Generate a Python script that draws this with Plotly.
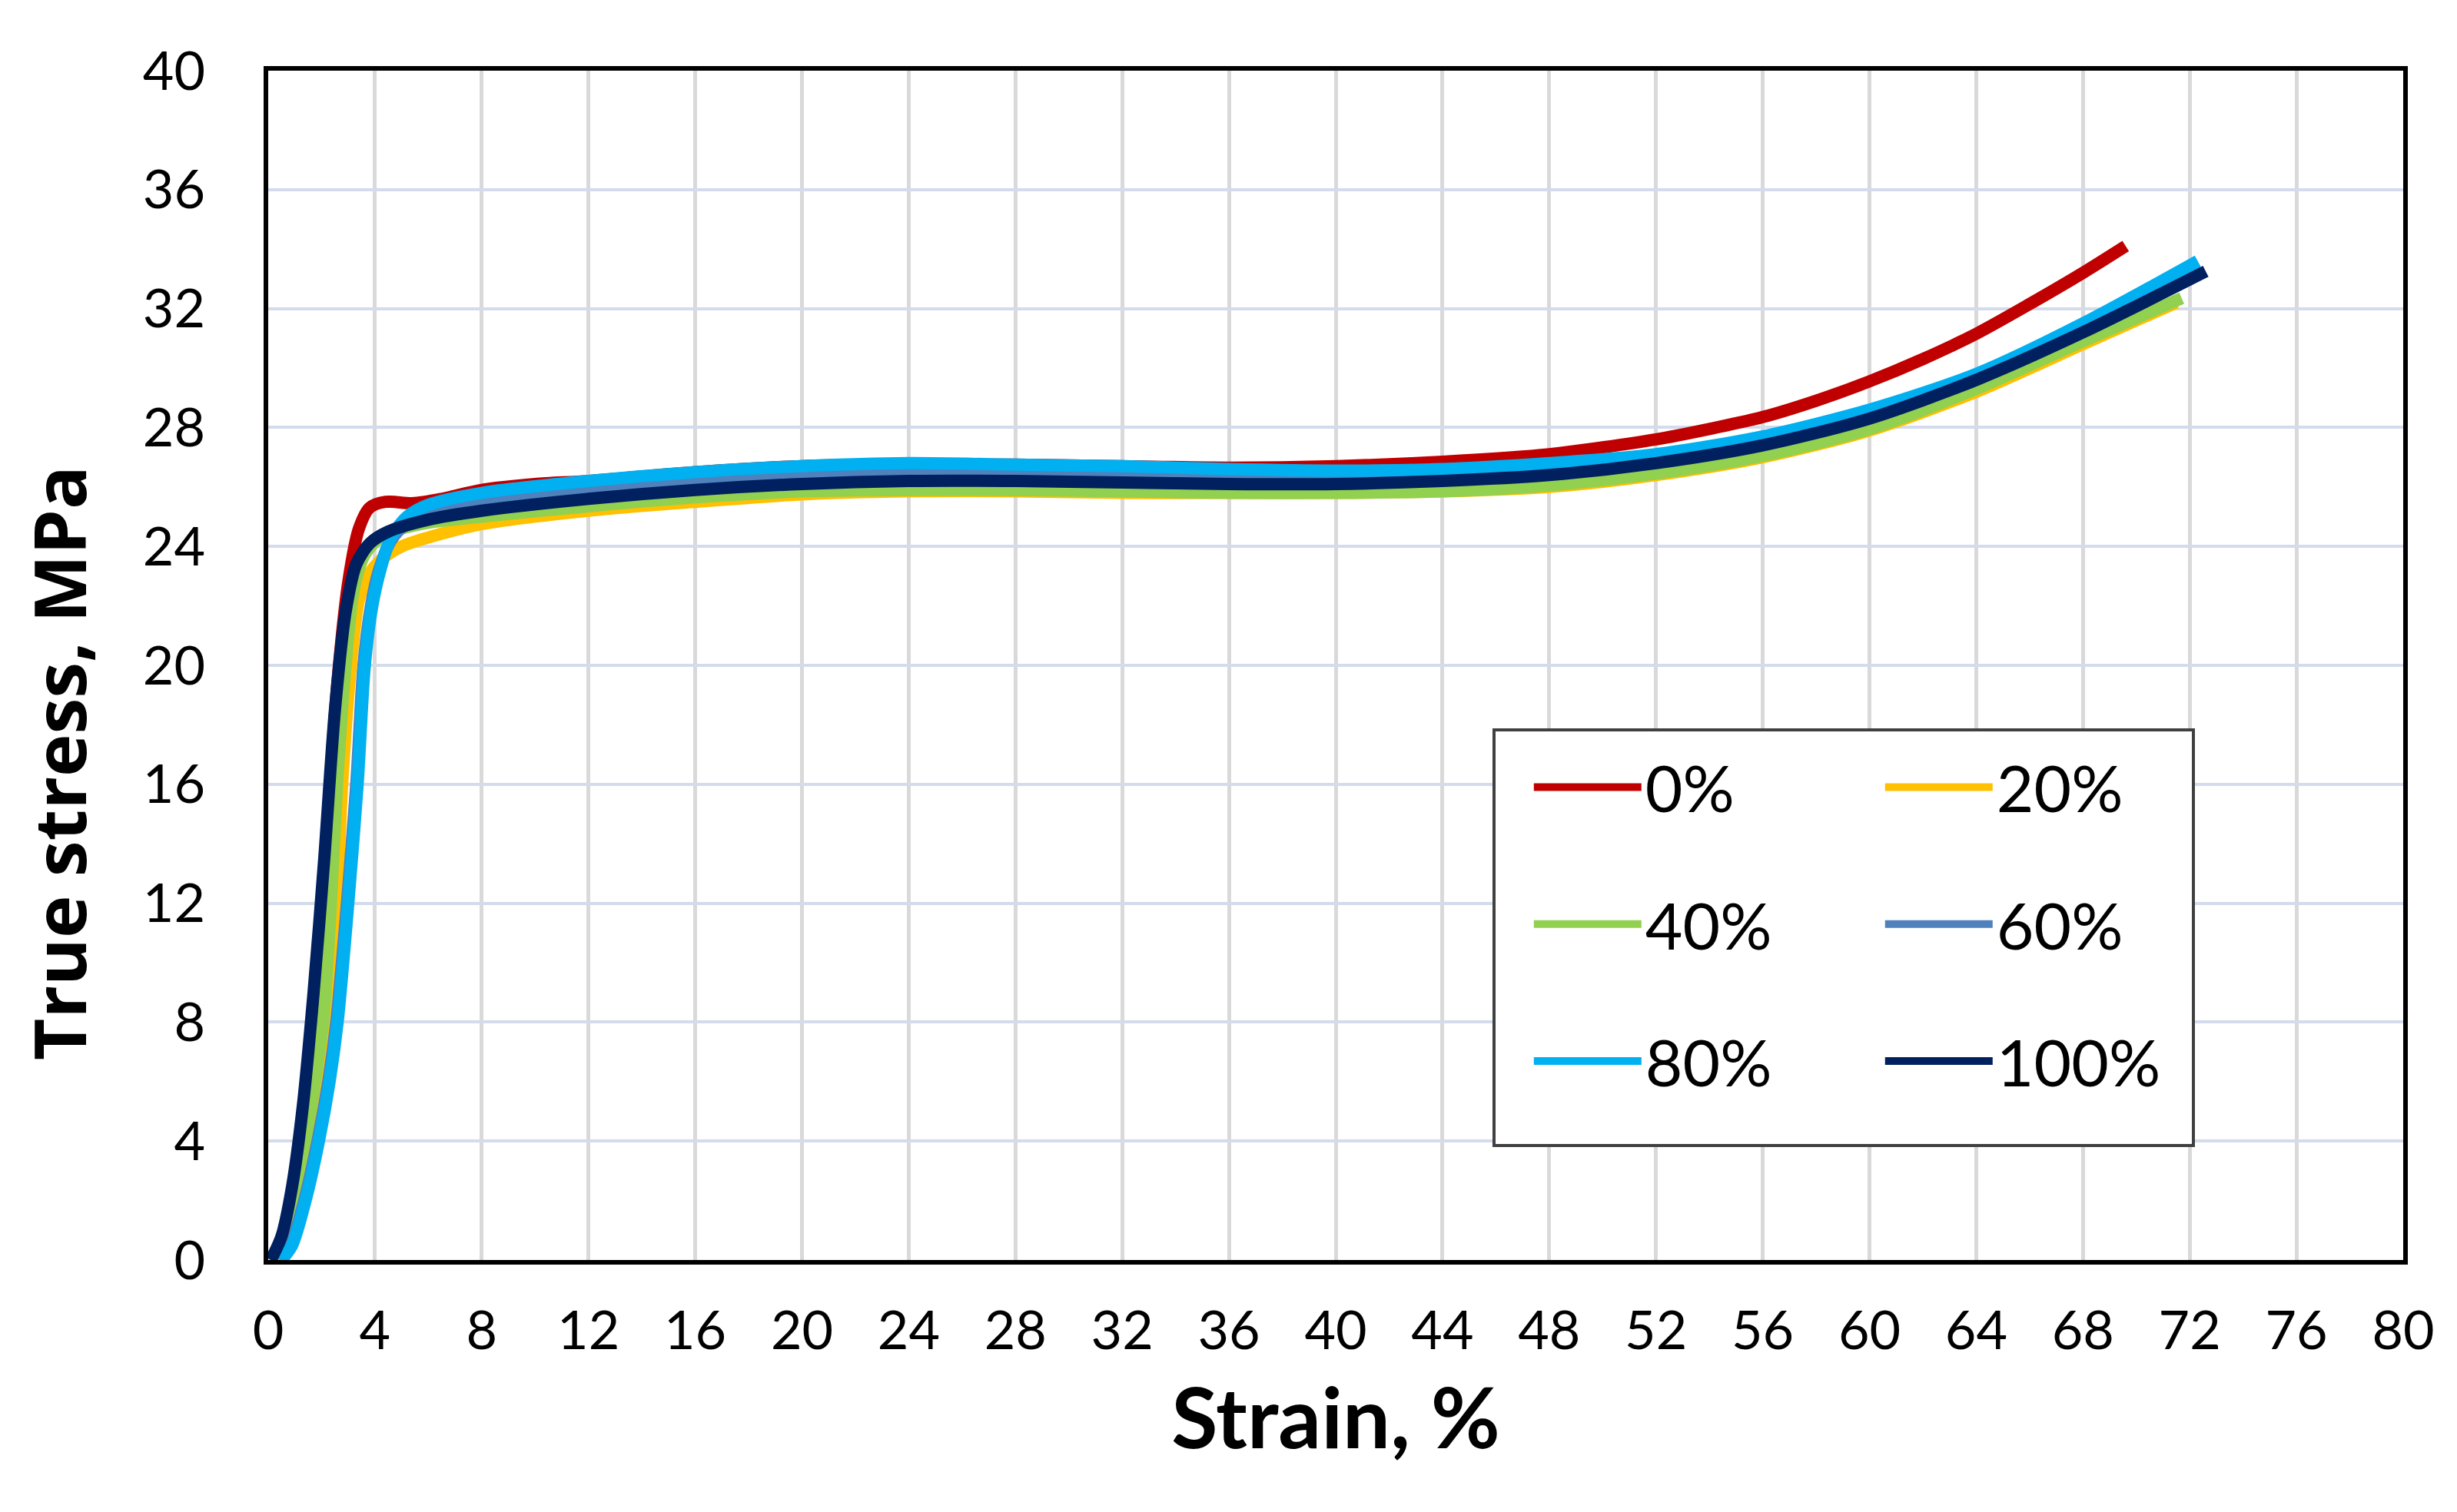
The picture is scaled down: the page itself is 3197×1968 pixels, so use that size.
import plotly.graph_objects as go

# ---- data ----
series_names = ["0%", "20%", "40%", "60%", "80%", "100%"]
series_colors = ["#C00000", "#FFC000", "#92D050", "#4F81BD", "#00B0F0", "#002060"]

strain_0 = [0.2, 0.6, 1.0, 1.4, 1.8, 2.2, 2.6, 3.0, 3.4, 3.8, 4.4, 5.4, 6.5, 8, 10, 12, 16, 20, 24, 28, 32, 36, 40, 44, 48, 52, 54, 56, 58, 60, 62, 64, 66, 68, 69.6]
stress_0 = [0, 0.8, 2.5, 5.5, 9.5, 14.5, 19.5, 22.8, 24.6, 25.3, 25.5, 25.45, 25.6, 25.9, 26.1, 26.2, 26.5, 26.7, 26.75, 26.75, 26.7, 26.65, 26.7, 26.85, 27.1, 27.6, 27.95, 28.35, 28.9, 29.55, 30.3, 31.15, 32.15, 33.2, 34.1]

strain_20 = [0.3, 0.8, 1.3, 1.8, 2.3, 2.55, 2.77, 3.1, 3.4, 3.8, 4.3, 5, 6, 8, 12, 16, 20, 24, 28, 32, 36, 40, 44, 48, 52, 56, 60, 64, 68, 71.5]
stress_20 = [0, 0.6, 2.3, 5, 8, 11.5, 16, 20, 22.2, 23.1, 23.6, 24, 24.3, 24.75, 25.2, 25.5, 25.75, 25.85, 25.85, 25.8, 25.8, 25.8, 25.85, 26.0, 26.4, 27.0, 27.9, 29.2, 30.8, 32.2]

strain_40 = [0.3, 0.7, 1.1, 1.5, 2.05, 2.35, 2.58, 2.9, 3.2, 3.6, 4.2, 5, 6, 8, 12, 16, 20, 24, 28, 32, 36, 40, 44, 48, 52, 56, 60, 64, 68, 71.7]
stress_40 = [0, 0.6, 2.2, 4.5, 8, 12, 16, 20, 22.5, 23.7, 24.3, 24.6, 24.8, 25.0, 25.35, 25.65, 25.85, 25.9, 25.9, 25.85, 25.8, 25.8, 25.85, 26.05, 26.45, 27.05, 27.95, 29.3, 30.9, 32.35]

strain_60 = [0.45, 0.85, 1.35, 1.85, 2.25, 2.55, 2.95, 3.3, 3.57, 3.85, 4.15, 4.6, 5.2, 6, 8, 12, 16, 20, 24, 28, 32, 36, 40, 44, 48, 52, 56, 60, 64, 68, 72.4]
stress_60 = [0, 0.5, 2, 4, 6, 8, 12, 16, 20, 22, 23.2, 24.2, 24.8, 25.2, 25.5, 25.9, 26.2, 26.4, 26.5, 26.5, 26.45, 26.4, 26.35, 26.4, 26.6, 26.95, 27.55, 28.45, 29.7, 31.35, 33.4]

strain_80 = [0.5, 0.9, 1.4, 1.9, 2.3, 2.6, 3.0, 3.35, 3.62, 3.9, 4.2, 4.6, 5.2, 6, 8, 12, 16, 20, 24, 28, 32, 36, 40, 44, 48, 52, 56, 60, 64, 68, 72.3]
stress_80 = [0, 0.5, 2, 4, 6, 8, 12, 16, 20, 22, 23.2, 24.3, 25, 25.4, 25.8, 26.2, 26.5, 26.7, 26.8, 26.75, 26.7, 26.6, 26.55, 26.6, 26.8, 27.1, 27.7, 28.6, 29.8, 31.5, 33.6]

strain_100 = [0.1, 0.5, 0.9, 1.3, 1.7, 2.1, 2.5, 2.9, 3.3, 3.8, 4.5, 6, 8, 12, 16, 20, 24, 28, 32, 36, 40, 44, 48, 52, 56, 60, 64, 68, 72.6]
stress_100 = [0, 0.8, 2.5, 5.2, 9, 13.5, 18.5, 21.8, 23.4, 24.1, 24.5, 24.9, 25.2, 25.6, 25.9, 26.1, 26.2, 26.2, 26.15, 26.1, 26.1, 26.2, 26.4, 26.8, 27.4, 28.3, 29.6, 31.2, 33.25]

x_ticks = list(range(0, 81, 4))
y_ticks = list(range(0, 41, 4))

strains = [strain_0, strain_20, strain_40, strain_60, strain_80, strain_100]
stresses = [stress_0, stress_20, stress_40, stress_60, stress_80, stress_100]
legend_ids = ["legend", "legend2", "legend", "legend2", "legend", "legend2"]

fig = go.Figure()
for name, color, xs, ys, lg in zip(series_names, series_colors, strains, stresses, legend_ids):
    fig.add_trace(go.Scatter(
        x=xs, y=ys, mode="lines", name=name,
        line=dict(color=color, width=16, shape="spline", smoothing=0.8),
        legend=lg, legendgroup=name,
    ))

tick_font = dict(family="Lato", size=70, color="#000000")
legend_font = dict(family="Lato", size=84, color="#000000")

L, R, T, B = 341, 78, 84, 336
PW, PH = 3197 - L - R, 1968 - T - B

fig.update_layout(
    width=3197, height=1968,
    margin=dict(l=L, r=R, t=T, b=B),
    paper_bgcolor="white", plot_bgcolor="white",
    showlegend=True,
    xaxis=dict(
        range=[0, 80], tickmode="array", tickvals=x_ticks, ticktext=[str(v) for v in x_ticks],
        showgrid=True, gridcolor="#D9D9D9", gridwidth=5,
        showline=True, linecolor="#000000", linewidth=6, mirror=True,
        zeroline=False, ticks="", tickfont=tick_font, ticklabelstandoff=26,
        title=dict(text="<b>Strain, %</b>", font=dict(family="Lato", size=110, color="#000000"), standoff=40),
    ),
    yaxis=dict(
        range=[0, 40], tickmode="array", tickvals=y_ticks, ticktext=[str(v) for v in y_ticks],
        showgrid=True, gridcolor="#D3DBEC", gridwidth=4,
        showline=True, linecolor="#000000", linewidth=6, mirror=True,
        zeroline=False, ticks="", tickfont=tick_font, ticklabelstandoff=62,
    ),
    legend=dict(
        x=0.591, y=0.437, xanchor="left", yanchor="top",
        bgcolor="rgba(0,0,0,0)", borderwidth=0, font=legend_font,
        itemwidth=140, tracegroupgap=66, traceorder="grouped",
    ),
    legend2=dict(
        x=0.7555, y=0.437, xanchor="left", yanchor="top",
        bgcolor="rgba(0,0,0,0)", borderwidth=0, font=legend_font,
        itemwidth=140, tracegroupgap=66, traceorder="grouped",
    ),
)

# legend frame
fig.add_shape(type="rect", xref="paper", yref="paper",
              x0=(1936 - L) / PW, x1=(2846 - L) / PW,
              y0=(1968 - B - 1483) / PH, y1=(1968 - B - 942) / PH,
              line=dict(color="#404040", width=4), fillcolor="white", layer="above")

# y-axis title
fig.add_annotation(text="<b>True stress, MPa</b>", xref="paper", yref="paper",
                   x=(68 - L) / PW, y=(1968 - B - 985) / PH, showarrow=False,
                   textangle=-90, xanchor="center", yanchor="middle",
                   font=dict(family="Open Sans", size=94, color="#000000"))

fig.write_html("out.html")
